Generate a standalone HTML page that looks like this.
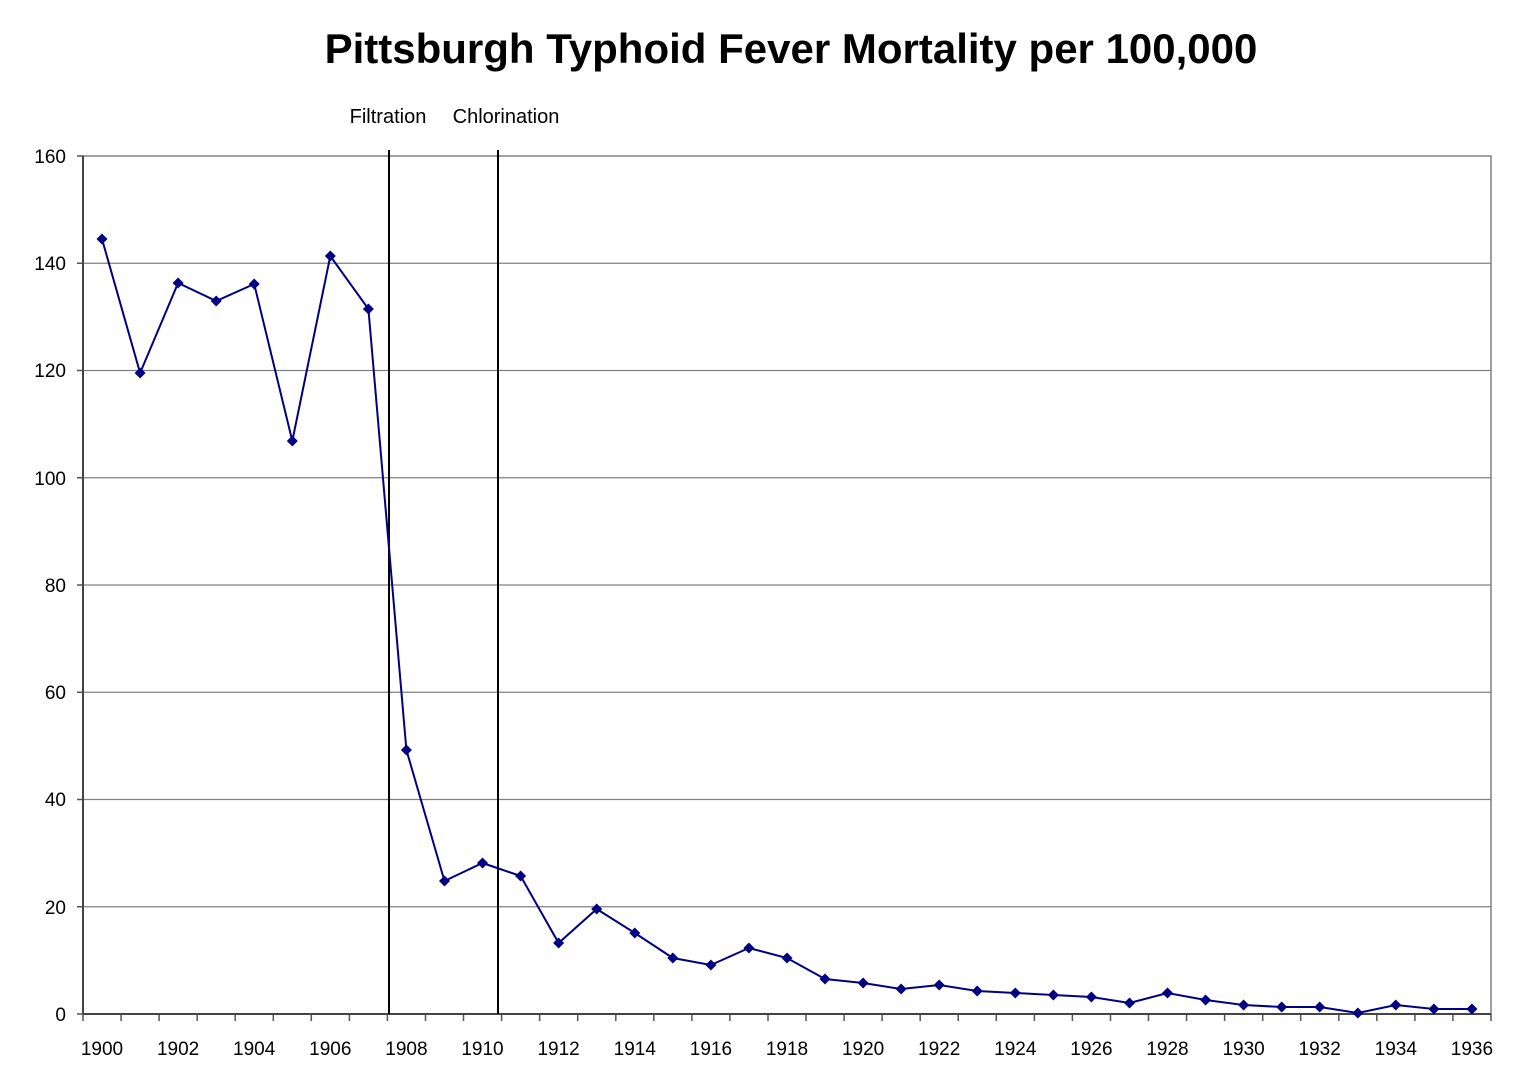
<!DOCTYPE html>
<html><head><meta charset="utf-8"><style>
html,body{margin:0;padding:0;background:#fff;}
svg{display:block;font-family:"Liberation Sans",Arial,sans-serif;}
</style></head><body>
<svg width="1524" height="1088" viewBox="0 0 1524 1088" xmlns="http://www.w3.org/2000/svg">
<defs>
<marker id="d" viewBox="-6 -6 12 12" markerWidth="12" markerHeight="12" refX="0" refY="0" markerUnits="userSpaceOnUse">
<path d="M0,-5.5 L5.5,0 L0,5.5 L-5.5,0Z" fill="#000080"/>
</marker>
</defs>
<text x="791" y="63" text-anchor="middle" font-size="42" font-weight="bold" fill="#000">Pittsburgh Typhoid Fever Mortality per 100,000</text>
<text x="388" y="123" text-anchor="middle" font-size="20" fill="#000">Filtration</text>
<text x="506" y="123" text-anchor="middle" font-size="20" fill="#000">Chlorination</text>
<g stroke="#808080" stroke-width="1.2">
<line x1="83" y1="263.25" x2="1491" y2="263.25"/>
<line x1="83" y1="370.5" x2="1491" y2="370.5"/>
<line x1="83" y1="477.75" x2="1491" y2="477.75"/>
<line x1="83" y1="585" x2="1491" y2="585"/>
<line x1="83" y1="692.25" x2="1491" y2="692.25"/>
<line x1="83" y1="799.5" x2="1491" y2="799.5"/>
<line x1="83" y1="906.75" x2="1491" y2="906.75"/>
</g>
<rect x="83" y="156" width="1408" height="858" fill="none" stroke="#808080" stroke-width="1.5"/>
<path d="M77,156H83M77,263.25H83M77,370.5H83M77,477.75H83M77,585H83M77,692.25H83M77,799.5H83M77,906.75H83M77,1014H83" stroke="#555" stroke-width="1.5"/>
<path d="M83,1014v7M121.1,1014v7M159.1,1014v7M197.2,1014v7M235.2,1014v7M273.3,1014v7M311.3,1014v7M349.4,1014v7M387.4,1014v7M425.5,1014v7M463.5,1014v7M501.6,1014v7M539.6,1014v7M577.7,1014v7M615.8,1014v7M653.8,1014v7M691.9,1014v7M729.9,1014v7M768,1014v7M806,1014v7M844.1,1014v7M882.1,1014v7M920.2,1014v7M958.2,1014v7M996.3,1014v7M1034.4,1014v7M1072.4,1014v7M1110.5,1014v7M1148.5,1014v7M1186.6,1014v7M1224.6,1014v7M1262.7,1014v7M1300.7,1014v7M1338.8,1014v7M1376.8,1014v7M1414.9,1014v7M1452.9,1014v7M1491,1014v7" stroke="#555" stroke-width="1.5"/>
<line x1="83" y1="1014" x2="1491" y2="1014" stroke="#444" stroke-width="2"/>
<line x1="83" y1="156" x2="83" y2="1014" stroke="#444" stroke-width="2"/>
<g font-size="19" fill="#000" text-anchor="end">
<text x="66" y="163">160</text>
<text x="66" y="270">140</text>
<text x="66" y="377">120</text>
<text x="66" y="485">100</text>
<text x="66" y="592">80</text>
<text x="66" y="699">60</text>
<text x="66" y="806">40</text>
<text x="66" y="914">20</text>
<text x="66" y="1021">0</text>
</g>
<g font-size="19" fill="#000" text-anchor="middle">
<text x="102" y="1055">1900</text>
<text x="178.1" y="1055">1902</text>
<text x="254.2" y="1055">1904</text>
<text x="330.3" y="1055">1906</text>
<text x="406.4" y="1055">1908</text>
<text x="482.5" y="1055">1910</text>
<text x="558.6" y="1055">1912</text>
<text x="634.8" y="1055">1914</text>
<text x="710.9" y="1055">1916</text>
<text x="787" y="1055">1918</text>
<text x="863.1" y="1055">1920</text>
<text x="939.2" y="1055">1922</text>
<text x="1015.3" y="1055">1924</text>
<text x="1091.4" y="1055">1926</text>
<text x="1167.5" y="1055">1928</text>
<text x="1243.6" y="1055">1930</text>
<text x="1319.7" y="1055">1932</text>
<text x="1395.8" y="1055">1934</text>
<text x="1471.9" y="1055">1936</text>
</g>
<line x1="389" y1="150" x2="389" y2="1014" stroke="#000" stroke-width="2"/>
<line x1="498" y1="150" x2="498" y2="1014" stroke="#000" stroke-width="2"/>
<polyline fill="none" stroke="#000080" stroke-width="2" marker-start="url(#d)" marker-mid="url(#d)" marker-end="url(#d)"
points="102,239 140.1,373 178.1,283 216.2,301 254.2,284 292.3,441 330.3,256 368.4,309 406.4,750 444.5,881 482.5,863 520.6,876 558.6,943 596.7,909 634.8,933 672.8,958 710.9,965 748.9,948 787,958 825,979 863.1,983 901.1,989 939.2,985 977.2,991 1015.3,993 1053.4,995 1091.4,997 1129.5,1003 1167.5,993 1205.6,1000 1243.6,1005 1281.7,1007 1319.7,1007 1357.8,1013 1395.8,1005 1433.9,1009 1471.9,1009"/>
</svg>
</body></html>
